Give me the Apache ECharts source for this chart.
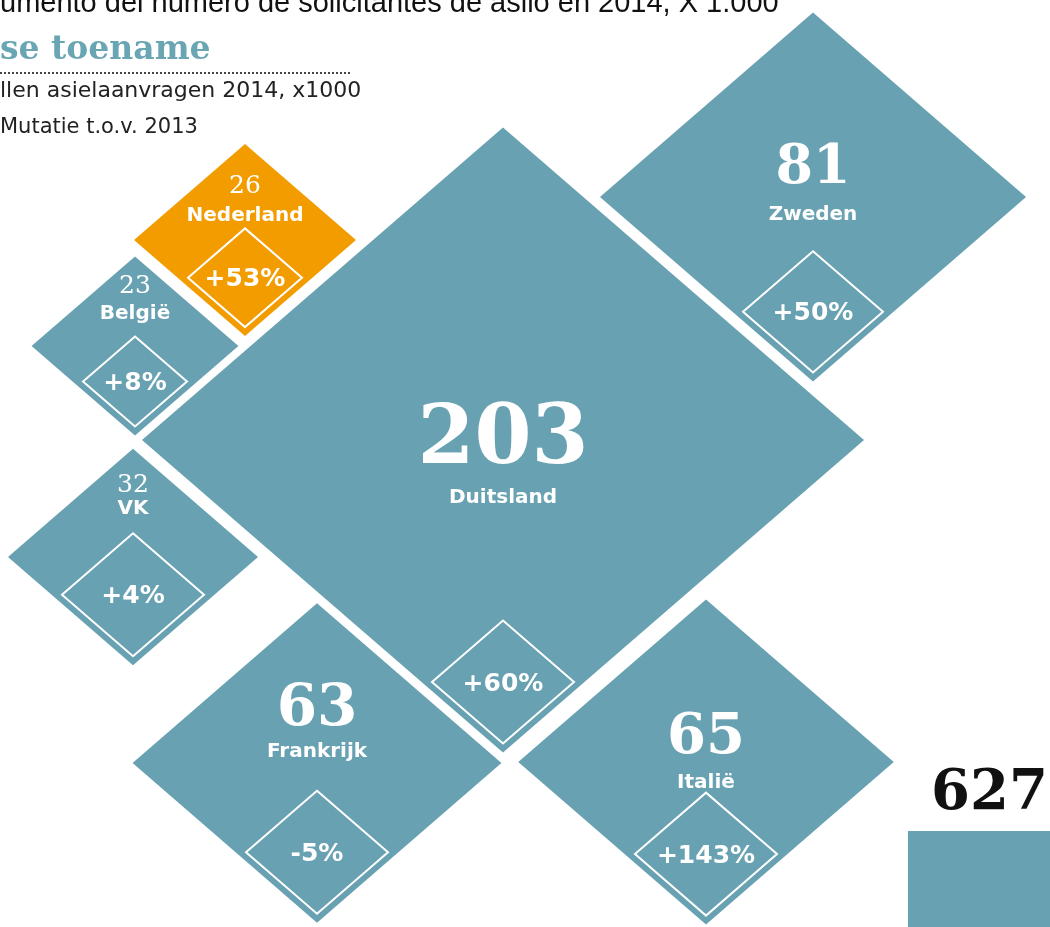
<!DOCTYPE html>
<html>
<head>
<meta charset="utf-8">
<script src="https://cdn.jsdelivr.net/npm/echarts@6/dist/echarts.min.js"></script>
<style>
  html, body { margin: 0; padding: 0; background: #ffffff; }
  #chart { width: 1050px; height: 927px; }
</style>
</head>
<body>
<div id="chart"></div>
<script>
// ---- DATA ----
const countries = ['Duitsland', 'Zweden', 'Italië', 'Frankrijk', 'VK', 'België', 'Nederland'];
const requests2014 = [203, 81, 65, 63, 32, 23, 26];      // asielaanvragen 2014, x1000
const changeVs2013 = [60, 50, 143, -5, 4, 8, 53];        // mutatie t.o.v. 2013, %
const totalRequests = 627;
const highlightCountry = 'Nederland';

// ---- LAYOUT (positions in the hidden layout axes, not data) ----
const layoutX = [503, 813, 706, 317, 133, 135, 245];
const layoutY = [440, 197, 762, 763, 557, 346, 240];
const numberDy = [2, -28, -24, -53, -72, -60, -54];
const labelDy  = [58, 18, 21, -11, -48, -32, -24];
const numberSize = [82, 54, 56, 58, 25, 25, 25];
const badgeHalf = [71, 70, 71, 71, 71, 52, 57];

const TEAL = '#68a1b1';
const ORANGE = '#f39c00';
const ASPECT = 1.155;

function halfWidth(v) { return 17.1 * Math.pow(v, 0.574); }
function fmtChange(c) { return (c > 0 ? '+' : '') + c + '%'; }

const seriesData = countries.map((c, i) => ({
  name: c,
  value: [layoutX[i], layoutY[i], requests2014[i], changeVs2013[i]]
}));

const chart = echarts.init(document.getElementById('chart'), null, { renderer: 'canvas' });

chart.setOption({
  backgroundColor: '#ffffff',
  animation: false,
  grid: { left: 0, right: 0, top: 0, bottom: 0 },
  xAxis: { type: 'value', min: 0, max: 1050, show: false },
  yAxis: { type: 'value', min: 0, max: 927, inverse: true, show: false },
  series: [{
    type: 'custom',
    coordinateSystem: 'cartesian2d',
    data: seriesData,
    renderItem: function (params, api) {
      const i = params.dataIndex;
      const c = api.coord([api.value(0), api.value(1)]);
      const v = api.value(2);
      const hwU = halfWidth(v);
      const sz = api.size([hwU, hwU / ASPECT]);
      const hw = sz[0], hh = sz[1];
      const cx = c[0], cy = c[1];
      const bw = badgeHalf[i], bh = badgeHalf[i] / ASPECT;
      const bcy = cy + hh - 9 - bh;
      const fill = countries[i] === highlightCountry ? ORANGE : TEAL;
      const big = numberSize[i] > 40;
      return {
        type: 'group',
        children: [
          {
            type: 'polygon',
            shape: { points: [[cx, cy - hh], [cx + hw, cy], [cx, cy + hh], [cx - hw, cy]] },
            style: { fill: fill }
          },
          {
            type: 'polygon',
            shape: { points: [[cx, bcy - bh], [cx + bw, bcy], [cx, bcy + bh], [cx - bw, bcy]] },
            style: { fill: 'none', stroke: '#ffffff', lineWidth: 2 }
          },
          {
            type: 'text',
            style: {
              text: String(v), x: cx, y: cy + numberDy[i],
              align: 'center', verticalAlign: 'middle',
              fill: '#ffffff',
              font: (big ? 'bold ' : '') + numberSize[i] + 'px "DejaVu Serif", serif'
            }
          },
          {
            type: 'text',
            style: {
              text: countries[i], x: cx, y: cy + labelDy[i],
              align: 'center', verticalAlign: 'middle',
              fill: '#ffffff',
              font: 'bold 20px "DejaVu Sans", sans-serif'
            }
          },
          {
            type: 'text',
            style: {
              text: fmtChange(api.value(3)), x: cx, y: bcy + 2,
              align: 'center', verticalAlign: 'middle',
              fill: '#ffffff',
              font: 'bold 25px "DejaVu Sans", sans-serif'
            }
          }
        ]
      };
    }
  }],
  graphic: [
    {
      type: 'text', left: 0, top: -11,
      style: { text: 'umento del número de solicitantes de asilo en 2014, X 1.000', fill: '#111', font: '29px "Liberation Sans", Arial, sans-serif' }
    },
    {
      type: 'text', left: 0, top: 34,
      style: { text: 'se toename', fill: '#6aa5b4', font: 'bold 33px "DejaVu Serif", serif' }
    },
    {
      type: 'line', shape: { x1: 0, y1: 73, x2: 350, y2: 73 },
      style: { stroke: '#444', lineWidth: 2, lineDash: [2, 2] }
    },
    {
      type: 'text', left: 0, top: 80,
      style: { text: 'llen asielaanvragen 2014, x1000', fill: '#222', font: '22px "DejaVu Sans", sans-serif' }
    },
    {
      type: 'text', left: 0, top: 117,
      style: { text: 'Mutatie t.o.v. 2013', fill: '#222', font: '21px "DejaVu Sans", sans-serif' }
    },
    {
      type: 'text', right: 2, top: 766,
      style: { text: String(totalRequests), fill: '#111', font: 'bold 56px "DejaVu Serif", serif' }
    },
    {
      type: 'rect', shape: { x: 908, y: 831, width: 142, height: 96 },
      style: { fill: TEAL }
    }
  ]
});
</script>
</body>
</html>
